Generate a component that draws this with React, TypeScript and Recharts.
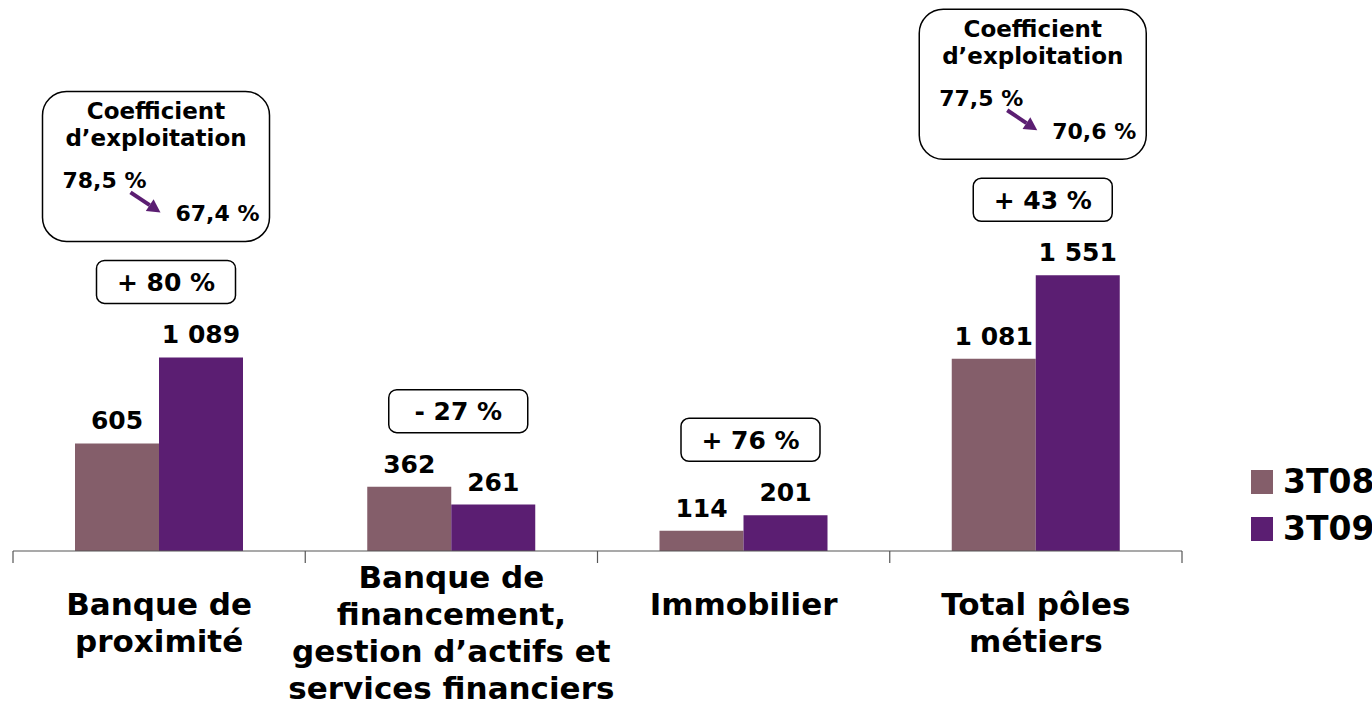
import { BarChart, Bar, XAxis, YAxis, LabelList } from 'recharts';

const categories = ['Banque de\nproximité', 'Banque de\nfinancement,\ngestion d’actifs et\nservices financiers', 'Immobilier', 'Total pôles\nmétiers'];
const values08 = [605, 362, 114, 1081];
const values09 = [1089, 261, 201, 1551];
const changeLabels = ['+ 80 %', '- 27 %', '+ 76 %', '+ 43 %'];
const coefFrom = ['78,5 %', '', '', '77,5 %'];
const coefTo = ['67,4 %', '', '', '70,6 %'];
const seriesNames = ['3T08', '3T09'];

const COLOR_08 = '#845E6A';
const COLOR_09 = '#5B1E72';
const FONT = '"DejaVu Sans", Verdana, sans-serif';

const data = categories.map((name, i) => ({ name, v08: values08[i], v09: values09[i] }));

const fmt = (v: number) => String(v).replace(/\B(?=(\d{3})+(?!\d))/g, ' ');

function ValueLabel(props: any) {
  const { x, y, width, value } = props;
  return (
    <text x={x + width / 2} y={y - 14} textAnchor="middle" fontFamily={FONT} fontWeight="bold" fontSize={25} fill="#000">
      {fmt(value)}
    </text>
  );
}

// value label of 3T09 plus the change box and the optional coefficient box
function Annotations(props: any) {
  const { x, y, width, height, value, index } = props;
  const k = height / value;
  const base = y + height;
  const topMax = base - Math.max(values08[index], values09[index]) * k;
  const cx = x; // category centre = left edge of the second bar
  const boxW = 139;
  const boxH = 43;
  const boxBottom = topMax - 54;
  const boxTop = boxBottom - boxH;
  const bx = cx + 7 - boxW / 2;

  let coef = null;
  if (coefFrom[index]) {
    const cw = 227;
    const ch = 150;
    const cy = boxTop - 19 - ch;
    const cxl = cx - 3 - cw / 2;
    const tipX = cxl + 118;
    const tipY = cy + 121;
    const dx = 0.832, dy = 0.555;
    const hl = 13, hw = 7;
    const bX = tipX - dx * hl, bY = tipY - dy * hl;
    coef = (
      <g>
        <rect x={cxl} y={cy} width={cw} height={ch} rx={24} ry={24} fill="#fff" stroke="#000" strokeWidth={1.5} />
        <text x={cxl + cw / 2} y={cy + 28} textAnchor="middle" fontFamily={FONT} fontWeight="bold" fontSize={23}>Coefficient</text>
        <text x={cxl + cw / 2} y={cy + 55} textAnchor="middle" fontFamily={FONT} fontWeight="bold" fontSize={23}>d’exploitation</text>
        <text x={cxl + 20} y={cy + 97} fontFamily={FONT} fontWeight="bold" fontSize={22}>{coefFrom[index]}</text>
        <text x={cxl + 133} y={cy + 130} fontFamily={FONT} fontWeight="bold" fontSize={22}>{coefTo[index]}</text>
        <line x1={cxl + 88} y1={cy + 101} x2={bX} y2={bY} stroke={COLOR_09} strokeWidth={4} />
        <polygon
          points={`${tipX},${tipY} ${bX - dy * hw},${bY + dx * hw} ${bX + dy * hw},${bY - dx * hw}`}
          fill={COLOR_09}
        />
      </g>
    );
  }

  return (
    <g>
      <text x={x + width / 2} y={y - 14} textAnchor="middle" fontFamily={FONT} fontWeight="bold" fontSize={25} fill="#000">
        {fmt(value)}
      </text>
      <rect x={bx} y={boxTop} width={boxW} height={boxH} rx={8} ry={8} fill="#fff" stroke="#000" strokeWidth={1.5} />
      <text x={bx + boxW / 2} y={boxTop + boxH / 2 + 9} textAnchor="middle" fontFamily={FONT} fontWeight="bold" fontSize={25}>
        {changeLabels[index]}
      </text>
      {coef}
    </g>
  );
}

function CategoryTick(props: any) {
  const { x, y, payload, index } = props;
  const lines = String(payload.value).split('\n');
  const off = payload.offset || 0;
  const first = 64 - Math.max(0, lines.length - 2) * 13.5;
  return (
    <g>
      <line x1={x - off} y1={y} x2={x - off} y2={y + 12} stroke="#555" strokeWidth={1.2} />
      {index === categories.length - 1 && (
        <line x1={x + off} y1={y} x2={x + off} y2={y + 12} stroke="#555" strokeWidth={1.2} />
      )}
      <text textAnchor="middle" fontFamily={FONT} fontWeight="bold" fontSize={31} fill="#000">
        {lines.map((l, i) => (
          <tspan key={i} x={x} y={y + first + i * 37}>{l}</tspan>
        ))}
      </text>
    </g>
  );
}

export default function App() {
  return (
    <div style={{ position: 'absolute', left: 0, top: 0, width: 1372, height: 702, background: '#fff', overflow: 'hidden' }}>
      <BarChart
        width={1372}
        height={702}
        data={data}
        margin={{ top: 231, right: 190, bottom: 0, left: 13 }}
        barSize={84}
        barGap={0}
      >
        <XAxis
          dataKey="name"
          height={151}
          interval={0}
          axisLine={{ stroke: '#555', strokeWidth: 1.2 }}
          tickLine={false}
          tickSize={0}
          tickMargin={0}
          tick={<CategoryTick />}
        />
        <YAxis hide domain={[0, 1800]} />
        <Bar dataKey="v08" name={seriesNames[0]} fill={COLOR_08} isAnimationActive={false}>
          <LabelList dataKey="v08" content={<ValueLabel />} />
        </Bar>
        <Bar dataKey="v09" name={seriesNames[1]} fill={COLOR_09} isAnimationActive={false}>
          <LabelList dataKey="v09" content={<Annotations />} />
        </Bar>
      </BarChart>
      <div style={{ position: 'absolute', left: 1251, top: 458, fontFamily: FONT, fontWeight: 'bold', fontSize: 33, lineHeight: '47px', whiteSpace: 'nowrap' }}>
        {seriesNames.map((s, i) => (
          <div key={s} style={{ display: 'flex', alignItems: 'center' }}>
            <span style={{ display: 'inline-block', width: 22, height: 24, background: i === 0 ? COLOR_08 : COLOR_09, marginRight: 10 }} />
            <span>{s}</span>
          </div>
        ))}
      </div>
    </div>
  );
}
